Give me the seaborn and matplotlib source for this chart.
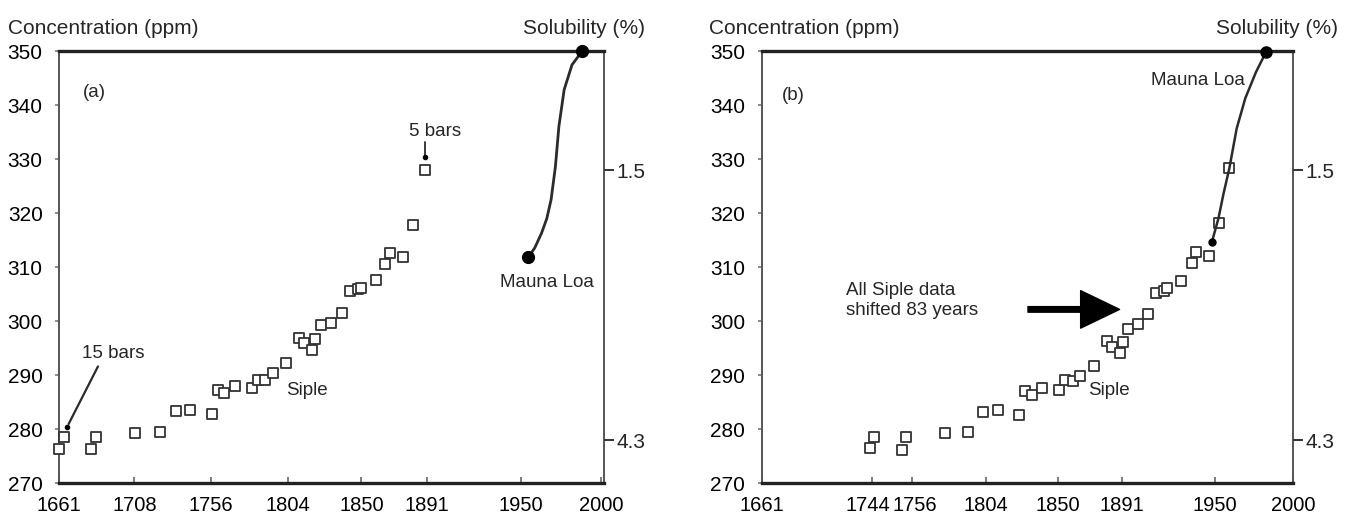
import numpy as np
import pandas as pd
import matplotlib
matplotlib.use('Agg')
import matplotlib.pyplot as plt
import matplotlib.transforms as mtransforms
from matplotlib.patches import FancyArrowPatch
import seaborn as sns

sns.set_theme(style='white')
plt.rcParams['font.family'] = ['Liberation Sans', 'DejaVu Sans']

# Siple ice core data, panel (a): year vs CO2 concentration (ppm)
siple_a_year = [1661, 1664, 1681, 1684, 1708.6, 1724, 1734, 1743, 1756.5, 1760, 1764,
                1771, 1781.6, 1785.5, 1790, 1795, 1803, 1811, 1814, 1819, 1821, 1825,
                1831, 1838, 1843, 1848, 1850, 1859, 1865, 1868, 1876, 1882.5, 1890]
siple_a_ppm = [276.4, 278.5, 276.4, 278.6, 279.3, 279.5, 283.4, 283.6, 282.9, 287.3, 286.7,
               288.0, 287.6, 289.2, 289.2, 290.5, 292.3, 296.9, 296.0, 294.7, 296.8, 299.3,
               299.7, 301.6, 305.6, 306.0, 306.2, 307.7, 310.7, 312.7, 311.9, 317.8, 328.0]

# Mauna Loa curve, panel (a)
mauna_a_year = [1954.5, 1958.5, 1962.7, 1966.0, 1968.7, 1971.4, 1973.6, 1976.9, 1981.8, 1988.1]
mauna_a_ppm = [311.9, 313.6, 316.3, 319.0, 322.5, 328.6, 336.1, 342.9, 347.5, 350.0]

# Panel (b): Siple data shifted
siple_b_year = [1730.2, 1732.4, 1750.4, 1753.1, 1777.5, 1792.7, 1802.1, 1811.8, 1824.8, 1829,
                1833.4, 1840, 1850.3, 1854.7, 1859.7, 1864.1, 1872.7, 1881, 1884.6, 1889.3,
                1891.2, 1894.8, 1900.9, 1907.3, 1912.8, 1917.8, 1919.7, 1928.6, 1935.2,
                1938.3, 1946.3, 1952.4, 1959.3]
siple_b_ppm = [276.5, 278.6, 276.2, 278.6, 279.3, 279.5, 283.2, 283.5, 282.6, 287.0,
               286.3, 287.7, 287.2, 289.1, 288.9, 289.9, 291.8, 296.3, 295.3, 294.2,
               296.2, 298.5, 299.5, 301.3, 305.3, 305.6, 306.1, 307.5, 310.8,
               312.8, 312.0, 318.2, 328.3]

mauna_b_year = [1948.2, 1952.4, 1955.5, 1959.3, 1964.0, 1969.5, 1976.4, 1982.8]
mauna_b_ppm = [314.7, 319.1, 323.5, 328.3, 335.7, 341.3, 346.2, 349.9]

yticks = [270, 280, 290, 300, 310, 320, 330, 340, 350]
sol_ticks = [328, 278]
sol_labels = ['1.5', '4.3']

xticks_a = [1661, 1708, 1756, 1804, 1850, 1891, 1950, 2000]
xlabels_a = ['1661', '1708', '1756', '1804', '1850', '1891', '1950', '2000']
xticks_b = [1661, 1731, 1757, 1804, 1850, 1891, 1950, 2000]
xlabels_b = ['1661', '1744', '1756', '1804', '1850', '1891', '1950', '2000']

df_a = pd.DataFrame({'year': siple_a_year, 'ppm': siple_a_ppm})
df_b = pd.DataFrame({'year': siple_b_year, 'ppm': siple_b_ppm})
ml_a = pd.DataFrame({'year': mauna_a_year, 'ppm': mauna_a_ppm})
ml_b = pd.DataFrame({'year': mauna_b_year, 'ppm': mauna_b_ppm})

fig = plt.figure(figsize=(13.54, 5.15), dpi=100)
ax_a = fig.add_axes([0.0438, 0.0616, 0.4025, 0.8388])
ax_b = fig.add_axes([0.5628, 0.0616, 0.3922, 0.8388])

ink = '#2b2b2b'
FS = 15
XFS = 14.5
AFS = 13.5


def style_axes(ax, xlim, xticks, xlabels, label_x0, label_x1):
    ax.set_xlim(*xlim)
    ax.set_ylim(270, 350)
    ax.set_xticks(xticks)
    ax.set_xticklabels(xlabels, fontsize=XFS)
    ax.set_yticks(yticks)
    ax.set_yticklabels([str(v) for v in yticks], fontsize=FS)
    ax.tick_params(axis='x', direction='in', length=4, width=1.2, color='#666', pad=9,
                   bottom=True, labelcolor='black')
    ax.tick_params(axis='y', direction='out', length=3, width=1.2, color='#777', pad=9,
                   left=True, labelcolor='black')
    for s in ['top', 'bottom']:
        ax.spines[s].set_linewidth(2.4)
        ax.spines[s].set_color('#222')
    for s in ['left', 'right']:
        ax.spines[s].set_linewidth(1.4)
        ax.spines[s].set_color('#555')
    ax.set_xlabel('')
    ax.set_ylabel('')
    ax.text(label_x0, 1.052, 'Concentration (ppm)', transform=ax.transAxes,
            fontsize=FS, ha='left', va='center')
    ax.text(label_x1, 1.052, 'Solubility (%)', transform=ax.transAxes,
            fontsize=FS, ha='right', va='center')
    tw = ax.twinx()
    tw.set_ylim(270, 350)
    tw.set_yticks(sol_ticks)
    tw.set_yticklabels(sol_labels, fontsize=FS)
    tw.tick_params(axis='y', direction='out', length=7, width=1.4, color='#333', pad=2,
                   right=True)
    tw.grid(False)
    for s in tw.spines.values():
        s.set_visible(False)
    ax.grid(False)


square_kw = dict(marker='s', s=44, facecolor='white', edgecolor='#333333',
                 linewidth=1.3, zorder=3, clip_on=False, legend=False)

# ---- panel (a)
sns.scatterplot(data=df_a, x='year', y='ppm', ax=ax_a, **square_kw)
sns.lineplot(data=ml_a, x='year', y='ppm', ax=ax_a, sort=False, estimator=None,
             color=ink, linewidth=2.0)
ax_a.plot([mauna_a_year[0], mauna_a_year[-1]], [mauna_a_ppm[0], mauna_a_ppm[-1]],
          'o', color='black', markersize=8.5, clip_on=False, zorder=5)
style_axes(ax_a, (1661, 2002), xticks_a, xlabels_a, -0.094, 1.075)

ax_a.text(1675.5, 342.3, '(a)', fontsize=AFS, ha='left', va='center')
ax_a.text(1675.5, 294.1, '15 bars', fontsize=AFS, ha='left', va='center')
ax_a.annotate('', xy=(1666, 280.5), xytext=(1686, 292.1),
              arrowprops=dict(arrowstyle='-', color=ink, lw=1.6))
ax_a.plot([1666], [280.5], 'o', color='black', markersize=3)
ax_a.text(1896, 335.2, '5 bars', fontsize=AFS, ha='center', va='center')
ax_a.plot([1890, 1890], [333.2, 330.5], color=ink, lw=1.3)
ax_a.plot([1890], [330.5], 'o', color='black', markersize=3)
ax_a.text(1816, 287.2, 'Siple', fontsize=AFS, ha='center', va='center')
ax_a.text(1966, 307.1, 'Mauna Loa', fontsize=AFS, ha='center', va='center')

# ---- panel (b)
sns.scatterplot(data=df_b, x='year', y='ppm', ax=ax_b, **square_kw)
sns.lineplot(data=ml_b, x='year', y='ppm', ax=ax_b, sort=False, estimator=None,
             color=ink, linewidth=1.8, zorder=4)
ax_b.plot([mauna_b_year[-1]], [mauna_b_ppm[-1]], 'o', color='black', markersize=8,
          clip_on=False, zorder=5)
ax_b.plot([mauna_b_year[0]], [mauna_b_ppm[0]], 'o', color='black', markersize=5, zorder=5)
style_axes(ax_b, (1661, 2000), xticks_b, xlabels_b, -0.099, 1.085)

# nudge the two crowded year labels apart a little
labs = ax_b.get_xticklabels()
labs[1].set_transform(labs[1].get_transform() +
                      mtransforms.ScaledTranslation(-3 / 72, 0, fig.dpi_scale_trans))
labs[2].set_transform(labs[2].get_transform() +
                      mtransforms.ScaledTranslation(2 / 72, 0, fig.dpi_scale_trans))

ax_b.text(1673.5, 341.9, '(b)', fontsize=AFS, ha='left', va='center')
ax_b.text(1939.5, 344.6, 'Mauna Loa', fontsize=AFS, ha='center', va='center')
ax_b.text(1869, 287.2, 'Siple', fontsize=AFS, ha='left', va='center')
ax_b.text(1714.4, 303.8, 'All Siple data\nshifted 83 years', fontsize=AFS,
          ha='left', va='center', linespacing=1.25)
arrow = FancyArrowPatch((1829, 302.2), (1891, 302.2),
                        arrowstyle='simple,head_length=28,head_width=27,tail_width=4',
                        mutation_scale=1, color='black', zorder=6)
ax_b.add_patch(arrow)

fig.savefig('out.png', dpi=100, facecolor='white')
